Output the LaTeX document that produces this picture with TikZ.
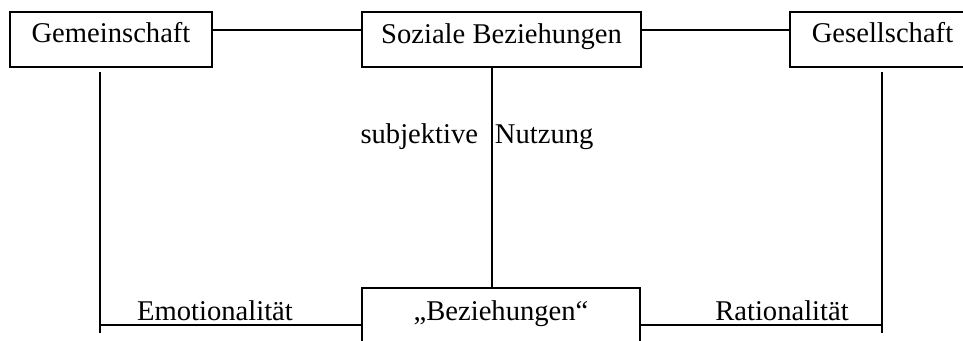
\documentclass[tikz,border=0pt]{standalone}
\usepackage{fontspec}
\setmainfont{Liberation Serif}
\begin{document}
\begin{tikzpicture}[x=1pt,y=-1pt,line width=1.8pt,
  box/.style={draw, inner sep=0pt, anchor=base, align=center, font=\fontsize{28.6}{34}\selectfont},
  lbl/.style={inner sep=0pt, font=\fontsize{28.6}{34}\selectfont}]
\useasboundingbox (0,0) rectangle (963,340);
\clip (0,0) rectangle (963,340);
\node[box, text height=30pt, text depth=25pt, minimum width=202pt] (gem) at (111,42) {Gemeinschaft};
\node[box, text height=31pt, text depth=24pt, minimum width=279pt] (soz) at (501.5,43) {Soziale Beziehungen};
\node[box, text height=30pt, text depth=25pt, minimum width=185pt] (ges) at (882.5,42) {Gesellschaft};
\node[box, text height=32pt, text depth=25pt, minimum width=278pt] (bez) at (501,320) {„Beziehungen“};
\coordinate (ty) at (0,30);
\coordinate (by) at (0,325);
\coordinate (mx) at (492,0);
\coordinate (gv1) at (100,72);
\coordinate (gv2) at (100,333);
\coordinate (rv1) at (882,72);
\coordinate (rv2) at (882,333);
\draw (gem.east |- ty) -- (soz.west |- ty);
\draw (soz.east |- ty) -- (ges.west |- ty);
\draw (gv1) -- (gv2);
\draw (rv1) -- (rv2);
\draw (gv1 |- by) -- (bez.west |- by);
\draw (bez.east |- by) -- (rv1 |- by);
\draw (soz.south -| mx) -- (bez.north -| mx);
\node[lbl, anchor=base east] (subj) at (479,143) {subjektive};
\node[lbl, anchor=base west] (nutz) at (494,143) {Nutzung};
\node[lbl, anchor=base] (emo) at (215,320) {Emotionalität};
\node[lbl, anchor=base] (rat) at (782,320) {Rationalität};
\end{tikzpicture}
\end{document}
